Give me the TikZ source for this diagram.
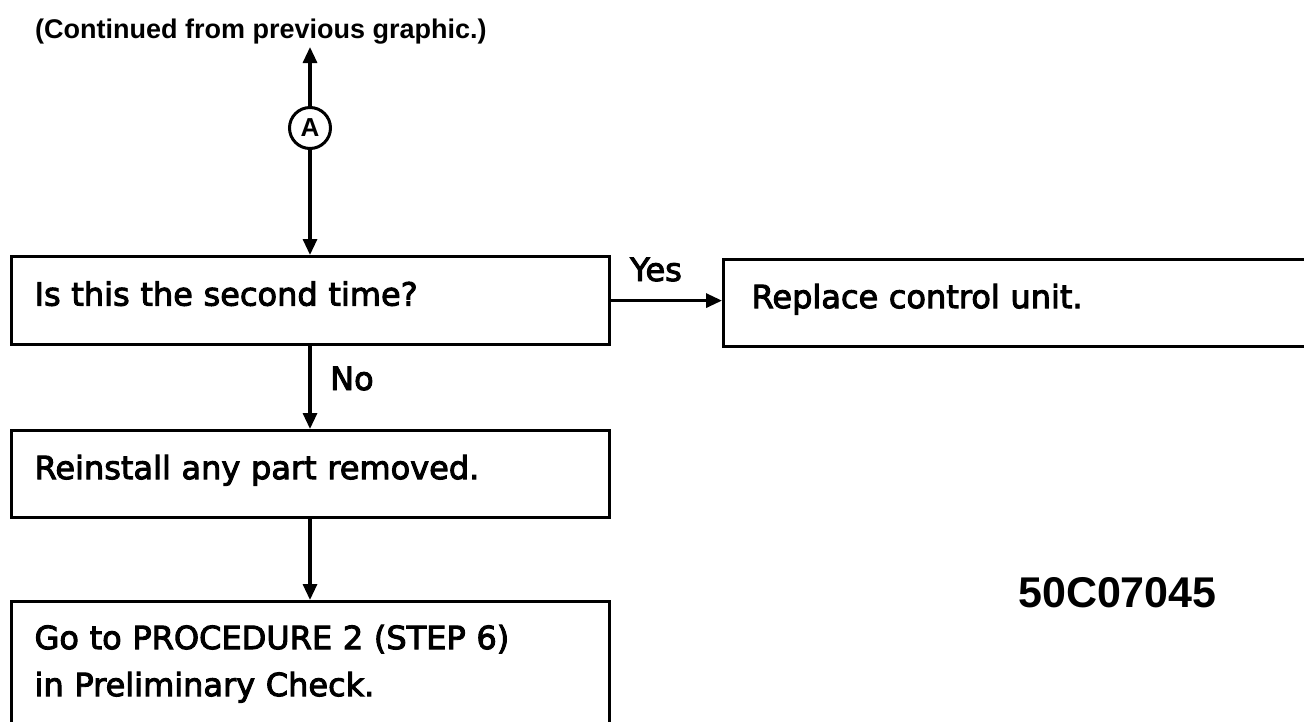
\documentclass[tikz,border=0pt]{standalone}
\usepackage{fontspec}
\setmainfont{DejaVu Sans}[FakeBold=3]
\newfontfamily\helv{Liberation Sans}
\usetikzlibrary{arrows.meta}
\begin{document}
\begin{tikzpicture}[x=1pt,y=-1pt,
  box/.style={draw, line width=3.2pt, rectangle, anchor=north west,
    inner xsep=23pt, inner ysep=0pt, text width=552pt, align=left,
    text height=24pt, text depth=14pt,
    font=\fontsize{32}{47}\selectfont},
  conn/.style={line width=3.2pt, -{Triangle[length=16pt,width=14pt]}},
  lbl/.style={font=\fontsize{32}{38}\selectfont, inner sep=0pt, anchor=base west}]
\useasboundingbox (0,0) rectangle (1304,721);
\clip (0,0) rectangle (1304,721);

\node[anchor=base west, inner sep=0pt, font=\helv\bfseries\fontsize{27}{30}\selectfont]
  (title) at (35,38) {(Continued from previous graphic.)};

\node[circle, draw, line width=3pt, minimum size=41pt, inner sep=0pt,
  font=\helv\bfseries\fontsize{26}{26}\selectfont] (A) at (310,128) {A};
\coordinate (top) at (310,47);

\node[box, minimum height=88pt] (q) at (10,255) {Is this the second time?};
\node[box, minimum height=87pt, inner xsep=28pt, text width=560pt] (r) at (722,258) {Replace control unit.};
\node[box, minimum height=87pt] (s) at (10,429) {Reinstall any part removed.};
\node[box, minimum height=132pt, text depth=61pt] (g) at (10,600) {Go to PROCEDURE 2 (STEP 6)\\ in Preliminary Check.};

\draw[conn] (A.north) -- (top);
\draw[conn] (A.south) -- (A.south |- q.north);
\draw[conn] (q.east) -- (r.west |- q.east);
\draw[conn] (A.south |- q.south) -- (A.south |- s.north);
\draw[conn] (A.south |- s.south) -- (A.south |- g.north);

\node[lbl] (yes) at (630,281) {Yes};
\node[lbl] (no) at (330,390) {No};

\node[anchor=base west, inner sep=0pt, font=\helv\bfseries\fontsize{43}{45}\selectfont]
  (code) at (1018,607) {50C07045};
\end{tikzpicture}
\end{document}
